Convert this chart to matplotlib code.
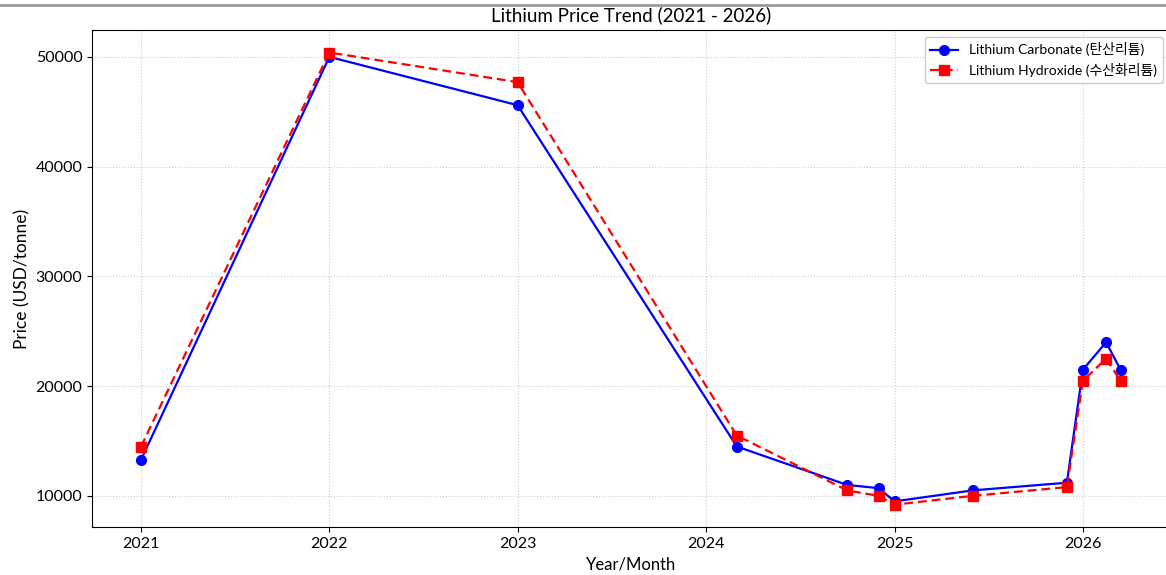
import matplotlib
matplotlib.use("Agg")
import matplotlib.pyplot as plt
import matplotlib.dates as mdates
from matplotlib.lines import Line2D
import pandas as pd

plt.rcParams['font.family'] = ['Lato', 'Noto Sans CJK KR', 'DejaVu Sans']

# ---------------------
# Data
# ---------------------
dates = pd.to_datetime([
    "2021-01-01", "2022-01-01", "2023-01-01", "2024-03-01", "2024-10-01",
    "2024-12-01", "2025-01-01", "2025-06-01", "2025-12-01", "2026-01-01",
    "2026-02-15", "2026-03-15",
])
carbonate = [13300, 50000, 45600, 14500, 11000, 10700, 9500, 10500, 11200, 21500, 24000, 21500]
hydroxide = [14500, 50400, 47700, 15500, 10500, 10000, 9200, 10000, 10800, 20500, 22500, 20500]

label_carbonate = "Lithium Carbonate (탄산리튬)"
label_hydroxide = "Lithium Hydroxide (수산화리튬)"

# ---------------------
# Plot
# ---------------------
fig = plt.figure(figsize=(11.66, 5.75), dpi=100)
ax = fig.add_axes([0.079, 0.083, 0.924, 0.865])

ax.plot(dates, carbonate, color="blue", marker="o", markersize=7,
        linewidth=1.6, label=label_carbonate)
ax.plot(dates, hydroxide, color="red", marker="s", markersize=7,
        linewidth=1.6, linestyle="--", dashes=(4, 2.2), label=label_hydroxide)

ax.xaxis.set_major_locator(mdates.YearLocator())
ax.xaxis.set_major_formatter(mdates.DateFormatter("%Y"))

ax.set_title("Lithium Price Trend (2021 - 2026)", fontsize=13.5, pad=6)
ax.set_xlabel("Year/Month", fontsize=12)
ax.set_ylabel("Price (USD/tonne)", fontsize=12.5)
ax.tick_params(labelsize=11.5)
ax.grid(True, linestyle=":", color="#cccccc", linewidth=0.8)
ax.legend(loc="upper right", fontsize=10, framealpha=1, edgecolor="#cccccc")

# thin gray rule along the top edge
fig.add_artist(Line2D([0, 1], [0.991, 0.991], color="#999999", linewidth=2))

fig.savefig("out.png", dpi=100)
